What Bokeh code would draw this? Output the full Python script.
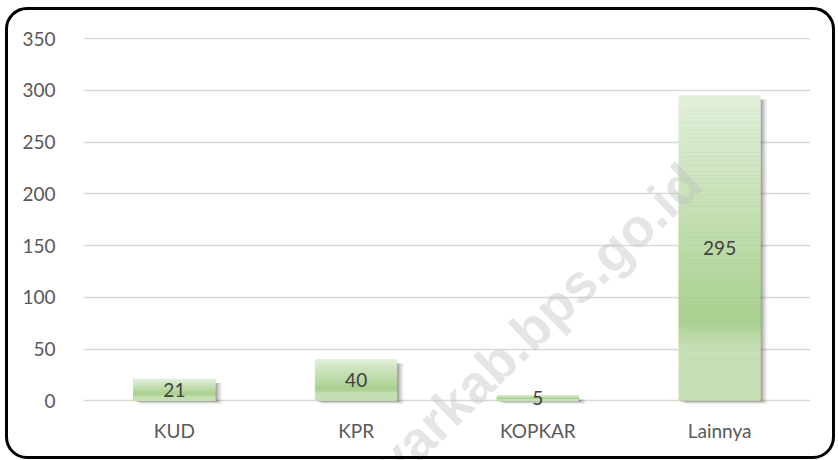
from bokeh.plotting import figure
from bokeh.models import FactorRange, Range1d, FixedTicker, ColumnDataSource, Label, InlineStyleSheet
from bokeh.transform import dodge
from bokeh.core.properties import value
from bokeh.embed import file_html
from bokeh.resources import INLINE

# ---- data ----
categories = ["KUD", "KPR", "KOPKAR", "Lainnya"]
values = [21, 40, 5, 295]
y_ticks = [0, 50, 100, 150, 200, 250, 300, 350]
watermark = "selayarkab.bps.go.id"

W, H = 838, 460
LEFT, RIGHT, TOP = 83, 28, 37
PX = 1.035                      # pixels per data unit on y
Y_END = 351
Y_START = Y_END - (H - TOP) / PX
FONT = "Lato"

p = figure(width=W, height=H,
           x_range=FactorRange(*categories, range_padding=0),
           y_range=Range1d(Y_START, Y_END),
           x_axis_location=None,
           output_backend="svg", toolbar_location=None,
           min_border_left=LEFT, min_border_right=RIGHT,
           min_border_top=TOP, min_border_bottom=0)
p.outline_line_color = None
p.background_fill_color = "white"
p.border_fill_color = "white"

ax = p.yaxis[0]
ax.axis_line_color = None
ax.major_tick_line_color = None
ax.minor_tick_line_color = None
ax.major_label_text_font = FONT
ax.major_label_text_font_size = "19px"
ax.major_label_text_color = "#595959"
ax.major_label_standoff = 22
ax.ticker = FixedTicker(ticks=y_ticks)
p.xgrid.grid_line_color = None
p.ygrid.grid_line_color = "#d9d9d9"
p.ygrid.grid_line_width = 1.5

cat_px = (W - LEFT - RIGHT) / len(categories)

# ---- shadows ----
for d, a in [(1, 0.11), (2, 0.09), (3, 0.08), (4, 0.06), (5, 0.05), (6, 0.04), (7, 0.03)]:
    src = ColumnDataSource(dict(
        x=categories,
        top=[v - 4 / PX for v in values],
        bottom=[-(d * 0.5) / PX for v in values]))
    p.vbar(x=dodge("x", d / cat_px, range=p.x_range), top="top", bottom="bottom",
           width=0.45, source=src, fill_color="black", fill_alpha=a, line_color=None)

# ---- gradient bars ----
stops = [(0.0, (226, 240, 219)), (0.74, (169, 209, 142)),
         (0.82, (198, 224, 180)), (1.0, (198, 224, 180))]

def color_at(f):
    for (f0, c0), (f1, c1) in zip(stops[:-1], stops[1:]):
        if f0 <= f <= f1:
            t = (f - f0) / (f1 - f0) if f1 > f0 else 0
            c = [round(c0[i] + (c1[i] - c0[i]) * t) for i in range(3)]
            return "#%02x%02x%02x" % tuple(c)
    return "#%02x%02x%02x" % stops[-1][1]

N = 80
xs, tops, bottoms, cols = [], [], [], []
for c, v in zip(categories, values):
    for i in range(N):
        f0, f1 = i / N, (i + 1) / N
        xs.append(c)
        tops.append(v * (1 - f0))
        bottoms.append(v * (1 - f1))
        cols.append(color_at((f0 + f1) / 2))
bars = ColumnDataSource(dict(x=xs, top=tops, bottom=bottoms, color=cols))
p.vbar(x="x", top="top", bottom="bottom", width=0.45, source=bars,
       fill_color="color", line_color="color", line_width=0.5)

# ---- value labels ----
lab = ColumnDataSource(dict(x=categories, y=[v / 2 for v in values], t=[str(v) for v in values]))
p.text(x="x", y="y", text="t", source=lab, text_font=value(FONT), text_font_size="19px",
       text_color="#404040", text_align="center", text_baseline="middle")

# ---- category labels (below the baseline) ----
cat_src = ColumnDataSource(dict(x=categories, y=[-30 / PX] * len(categories), t=categories))
p.text(x="x", y="y", text="t", source=cat_src, text_font=value(FONT), text_font_size="19px",
       text_color="#595959", text_align="center", text_baseline="middle")

# ---- watermark ----
p.add_layout(Label(x=2.29, y=40.5, text=watermark, angle=44, angle_units="deg",
                   text_font="Liberation Sans", text_font_style="bold", text_font_size="54px",
                   text_color="#bfbfbf", text_alpha=0.4, text_align="center", text_baseline="middle"))

# ---- rounded outer frame ----
p.stylesheets = [InlineStyleSheet(css="""
:host { position: relative; }
:host::after {
  content: ''; position: absolute; left: 5px; top: 7px; right: 3px; bottom: 1px;
  border: 3px solid #000; border-radius: 22px; pointer-events: none; box-sizing: border-box;
}
""")]

open("out.html", "w").write(file_html(p, INLINE))
